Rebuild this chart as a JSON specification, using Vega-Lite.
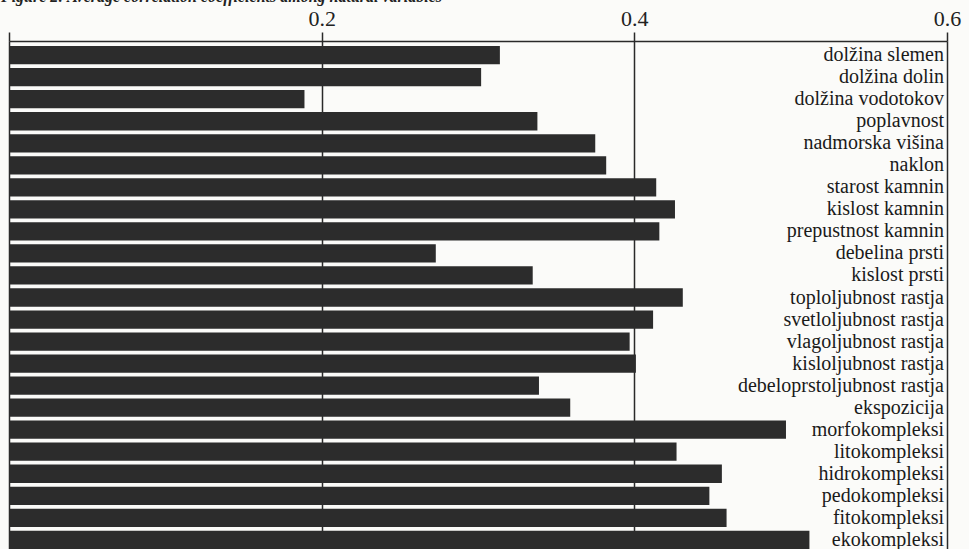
{
  "$schema": "https://vega.github.io/schema/vega-lite/v6.json",
  "autosize": {"type": "none"},
  "width": 938,
  "height": 508,
  "padding": {"left": 9, "top": 41, "right": 22, "bottom": 0},
  "background": "#fbfbf9",
  "title": {
    "text": "Figure 2: Average correlation coefficients among natural variables",
    "anchor": "start",
    "frame": "group",
    "font": "Liberation Serif",
    "fontSize": 16,
    "fontStyle": "italic",
    "fontWeight": "bold",
    "color": "#222",
    "dx": -8,
    "dy": 2
  },
  "config": {
    "view": {"stroke": null},
    "font": "Liberation Serif"
  },
  "data": {
    "values": [
      {"label": "dolžina slemen", "value": 0.314},
      {"label": "dolžina dolin", "value": 0.302},
      {"label": "dolžina vodotokov", "value": 0.189},
      {"label": "poplavnost", "value": 0.338},
      {"label": "nadmorska višina", "value": 0.375},
      {"label": "naklon", "value": 0.382},
      {"label": "starost kamnin", "value": 0.414},
      {"label": "kislost kamnin", "value": 0.426},
      {"label": "prepustnost kamnin", "value": 0.416},
      {"label": "debelina prsti", "value": 0.273},
      {"label": "kislost prsti", "value": 0.335},
      {"label": "toploljubnost rastja", "value": 0.431},
      {"label": "svetloljubnost rastja", "value": 0.412},
      {"label": "vlagoljubnost rastja", "value": 0.397},
      {"label": "kisloljubnost rastja", "value": 0.401},
      {"label": "debeloprstoljubnost rastja", "value": 0.339},
      {"label": "ekspozicija", "value": 0.359},
      {"label": "morfokompleksi", "value": 0.497},
      {"label": "litokompleksi", "value": 0.427},
      {"label": "hidrokompleksi", "value": 0.456},
      {"label": "pedokompleksi", "value": 0.448},
      {"label": "fitokompleksi", "value": 0.459},
      {"label": "ekokompleksi", "value": 0.512}
    ]
  },
  "encoding": {
    "y": {
      "field": "label",
      "type": "nominal",
      "sort": null,
      "scale": {"paddingInner": 0.17, "paddingOuter": 0.1135, "align": 1},
      "axis": null
    }
  },
  "layer": [
    {
      "mark": {"type": "bar", "color": "#2c2c2c"},
      "encoding": {
        "x": {
          "field": "value",
          "type": "quantitative",
          "scale": {"domain": [0, 0.6], "nice": false, "zero": true},
          "axis": {
            "orient": "top",
            "title": null,
            "values": [0, 0.2, 0.4, 0.6],
            "format": ".1f",
            "labelExpr": "datum.value == 0 ? '' : datum.label",
            "grid": true,
            "gridColor": "#2a2a2a",
            "gridWidth": 1.5,
            "gridOpacity": 1,
            "domainColor": "#2a2a2a",
            "domainWidth": 1.5,
            "tickColor": "#2a2a2a",
            "tickWidth": 1.5,
            "tickSize": 9,
            "labelPadding": 2,
            "labelFont": "Liberation Serif",
            "labelFontSize": 22,
            "labelColor": "#222",
            "labelFlush": false
          }
        }
      }
    },
    {
      "mark": {"type": "text", "align": "right", "baseline": "alphabetic", "dx": -3, "dy": 6, "font": "Liberation Serif", "fontSize": 20, "color": "#1a1a1a"},
      "encoding": {
        "x": {"datum": 0.6, "type": "quantitative"},
        "text": {"field": "label"}
      }
    }
  ]
}
